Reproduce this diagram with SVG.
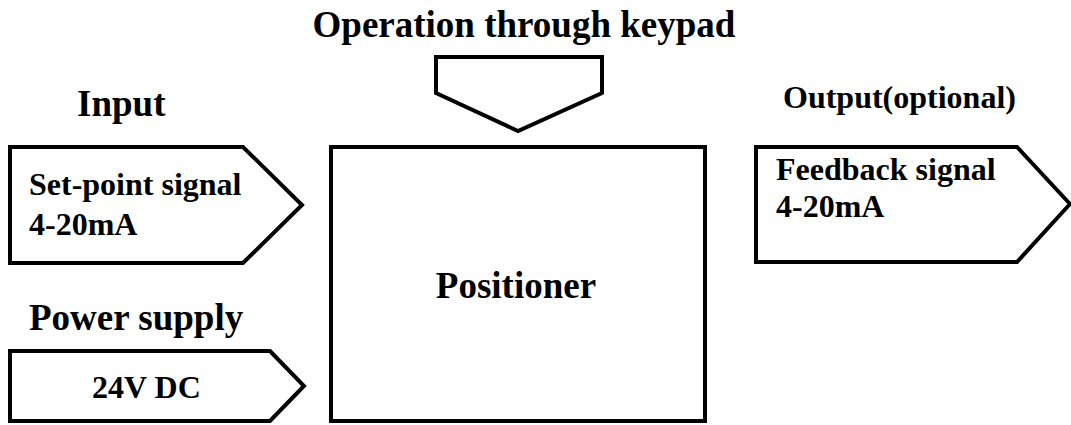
<svg xmlns="http://www.w3.org/2000/svg" width="1071" height="425" viewBox="0 0 1071 425">
<style>
.s{fill:#fff;stroke:#000;stroke-width:4;stroke-linejoin:miter}
text{font-family:"Liberation Serif","Times New Roman",serif;font-weight:bold;fill:#000}
.l{font-size:37px}
.m{font-size:32px}
</style>
<rect width="1071" height="425" fill="#fff"/>
<g id="keypad">
<text class="l" x="524" y="37" text-anchor="middle">Operation through keypad</text>
<polygon class="s" points="436,57 602,57 602,93 518,131 436,93"/>
</g>
<g id="positioner">
<rect class="s" x="331" y="147" width="374" height="274"/>
<text class="l" x="516" y="298" text-anchor="middle">Positioner</text>
</g>
<g id="input">
<text class="l" x="77" y="116">Input</text>
<polygon class="s" points="10,147 243,147 302,205 243,263 10,263"/>
<text class="m" x="29" y="195">Set-point signal</text>
<text class="m" x="29" y="235">4-20mA</text>
</g>
<g id="power">
<text class="l" x="29" y="330">Power supply</text>
<polygon class="s" points="10,351 270,351 304,386 270,421 10,421"/>
<text class="m" x="92" y="398">24V DC</text>
</g>
<g id="output">
<text class="m" x="783" y="108">Output(optional)</text>
<polygon class="s" points="756,147 1017,147 1070,204 1017,262 756,262"/>
<text class="m" x="776" y="180">Feedback signal</text>
<text class="m" x="776" y="217">4-20mA</text>
</g>
<g id="connectors"></g>
</svg>
